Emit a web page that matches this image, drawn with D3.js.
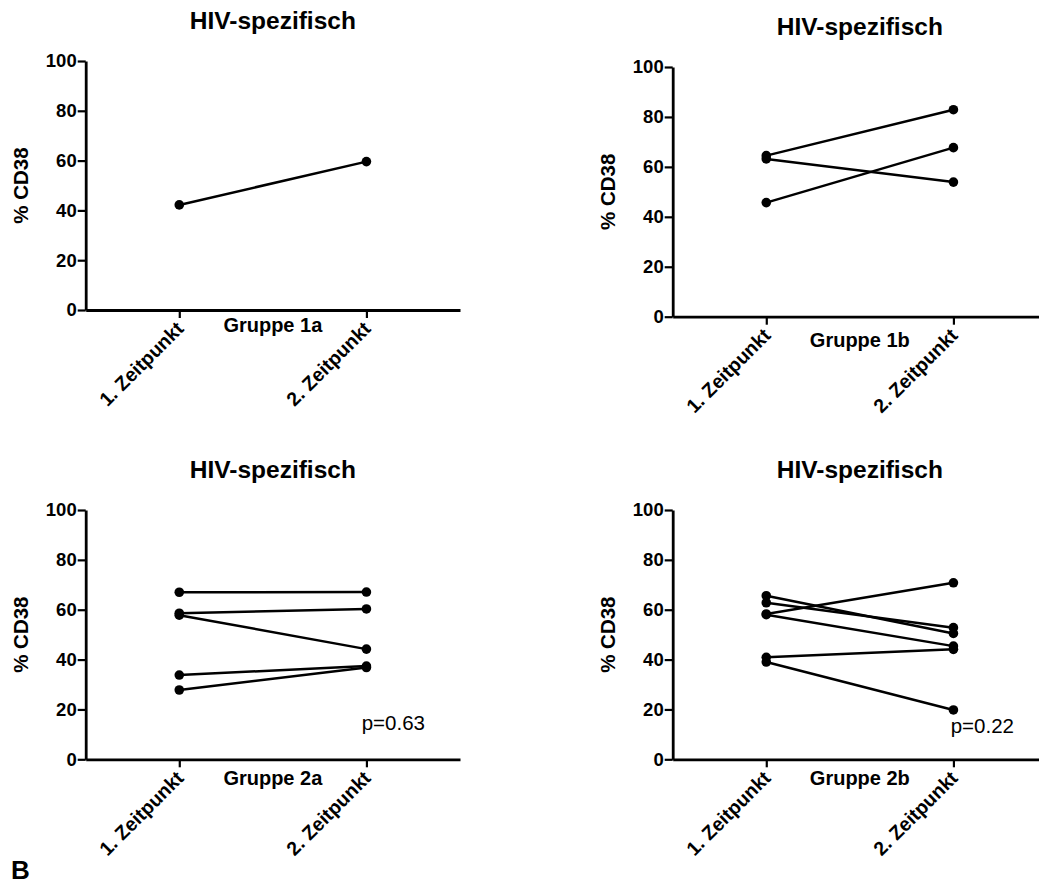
<!DOCTYPE html>
<html>
<head>
<meta charset="utf-8">
<script src="https://cdn.jsdelivr.net/npm/d3@7/dist/d3.min.js"></script>
<style>
  html, body { margin: 0; padding: 0; background: #fff; }
  svg { display: block; font-family: "Liberation Sans", Arial, sans-serif; }
</style>
</head>
<body>
<svg id="chart" width="1039" height="886"></svg>
<script>
// Time points and y ticks shared by all four panels
const timepoints = ["1. Zeitpunkt", "2. Zeitpunkt"];
const yTicks = [0, 20, 40, 60, 80, 100];
const titleText = "HIV-spezifisch";
const yLabel = "% CD38";

// Paired measurements (% CD38) per group: first and second time point
const group1a = ["Gruppe 1a"];
const g1aFirst  = [42.2];
const g1aSecond = [59.6];

const group1b = ["Gruppe 1b"];
const g1bFirst  = [64.5, 63.2, 45.7];
const g1bSecond = [82.9, 53.9, 67.7];

const group2a = ["Gruppe 2a"];
const g2aFirst  = [67.0, 58.6, 57.8, 33.8, 27.8];
const g2aSecond = [67.1, 60.3, 44.2, 37.4, 36.8];
const g2aP = ["p=0.63"];

const group2b = ["Gruppe 2b"];
const g2bFirst  = [65.6, 62.8, 58.3, 58.0, 40.9, 39.0];
const g2bSecond = [50.5, 52.8, 70.8, 45.4, 44.1, 19.8];
const g2bP = ["p=0.22"];

// Panel placement on the page
const panels = [
  { name: group1a[0], first: g1aFirst, second: g1aSecond, p: null,
    x0: 85.7, top: 61, bottom: 310, groupDy: 22, pdx: 0, pdy: 0 },
  { name: group1b[0], first: g1bFirst, second: g1bSecond, p: null,
    x0: 672.7, top: 67, bottom: 316.7, groupDy: 30, pdx: 0, pdy: 0 },
  { name: group2a[0], first: g2aFirst, second: g2aSecond, p: g2aP[0],
    x0: 85.7, top: 510, bottom: 759.3, groupDy: 26, pdx: 276, pdy: -29 },
  { name: group2b[0], first: g2bFirst, second: g2bSecond, p: g2bP[0],
    x0: 672.7, top: 510, bottom: 759.3, groupDy: 26, pdx: 278, pdy: -26 }
];
const plotWidth = 374.3;

const svg = d3.select("#chart");
const FONT = "'Liberation Sans', Arial, sans-serif";

panels.forEach(pn => {
  const g = svg.append("g");
  const x = d3.scalePoint().domain(timepoints).range([pn.x0, pn.x0 + plotWidth]).padding(0.5);
  const y = d3.scaleLinear().domain([0, 100]).range([pn.bottom, pn.top]);

  // Y axis
  const yAxis = g.append("g")
    .attr("transform", `translate(${pn.x0},0)`)
    .call(d3.axisLeft(y).tickValues(yTicks).tickSize(8).tickSizeOuter(0).tickPadding(1));
  yAxis.select(".domain").attr("stroke", "#000").attr("stroke-width", 2.8);
  yAxis.selectAll(".tick line").attr("stroke", "#000").attr("stroke-width", 2.2);
  yAxis.selectAll(".tick text")
    .attr("fill", "#000")
    .style("font-size", "18.5px")
    .style("font-weight", "bold")
    .style("font-family", FONT);

  // X axis
  const xAxis = g.append("g")
    .attr("transform", `translate(0,${pn.bottom})`)
    .call(d3.axisBottom(x).tickSize(8).tickSizeOuter(0).tickPadding(2));
  xAxis.select(".domain").attr("stroke", "#000").attr("stroke-width", 2.8);
  xAxis.selectAll(".tick line").attr("stroke", "#000").attr("stroke-width", 2.2);
  xAxis.selectAll(".tick text")
    .attr("fill", "#000")
    .attr("text-anchor", "end")
    .attr("x", 0)
    .attr("y", 0)
    .attr("dy", 0)
    .attr("transform", "translate(5,20) rotate(-45)")
    .style("font-size", "19.5px")
    .style("font-weight", "bold")
    .style("font-family", FONT);

  // Title
  g.append("text")
    .attr("x", pn.x0 + plotWidth / 2)
    .attr("y", pn.top - 32)
    .attr("text-anchor", "middle")
    .style("font-size", "24.5px")
    .style("font-weight", "bold")
    .text(titleText);

  // Y-axis label
  g.append("text")
    .attr("transform", `translate(${pn.x0 - 58},${(pn.top + pn.bottom) / 2}) rotate(-90)`)
    .attr("text-anchor", "middle")
    .style("font-size", "20.5px")
    .style("font-weight", "bold")
    .text(yLabel);

  // Group label under the axis
  g.append("text")
    .attr("x", pn.x0 + plotWidth / 2)
    .attr("y", pn.bottom + pn.groupDy)
    .attr("text-anchor", "middle")
    .style("font-size", "20px")
    .style("font-weight", "bold")
    .text(pn.name);

  // Paired lines and points
  const pairs = pn.first.map((v, i) => [v, pn.second[i]]);
  const line = d3.line().x((d, i) => x(timepoints[i])).y(d => y(d));
  g.selectAll("path.pair").data(pairs).enter().append("path")
    .attr("class", "pair")
    .attr("d", d => line(d))
    .attr("fill", "none")
    .attr("stroke", "#000")
    .attr("stroke-width", 2.5);
  pairs.forEach(pr => {
    pr.forEach((v, i) => {
      g.append("circle")
        .attr("cx", x(timepoints[i]))
        .attr("cy", y(v))
        .attr("r", 4.8)
        .attr("fill", "#000");
    });
  });

  // p-value note
  if (pn.p) {
    g.append("text")
      .attr("x", pn.x0 + pn.pdx)
      .attr("y", pn.bottom + pn.pdy)
      .style("font-size", "20.5px")
      .text(pn.p);
  }
});

// Figure part letter
svg.append("text")
  .attr("x", 11)
  .attr("y", 879)
  .style("font-size", "26px")
  .style("font-weight", "bold")
  .text("B");
</script>
</body>
</html>
